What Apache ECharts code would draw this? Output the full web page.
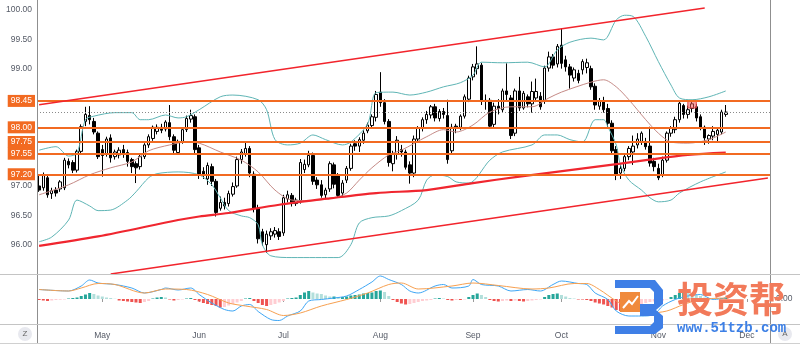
<!DOCTYPE html>
<html>
<head>
<meta charset="utf-8">
<script src="https://cdn.jsdelivr.net/npm/echarts@6/dist/echarts.min.js"></script>
<style>
  html, body { margin: 0; padding: 0; background: #ffffff; }
  #chart { width: 800px; height: 344px; }
</style>
</head>
<body>
<div id="chart"></div>
<script>
// ---- Calendar: one slot per weekday from 10 Apr 2019 (trailing slots are empty future space)
const FIRST_DAY = [2019, 3, 10];
const SLOT_COUNT = 174;
const dates = [];
(function () {
  const d = new Date(Date.UTC(FIRST_DAY[0], FIRST_DAY[1], FIRST_DAY[2]));
  while (dates.length < SLOT_COUNT) {
    const wd = d.getUTCDay();
    if (wd !== 0 && wd !== 6) dates.push(d.toISOString().slice(0, 10));
    d.setUTCDate(d.getUTCDate() + 1);
  }
})();
const monthNames = ['Jan','Feb','Mar','Apr','May','Jun','Jul','Aug','Sep','Oct','Nov','Dec'];

// ---- Daily bars: [open, close, low, high]
const ohlc = [
  [97.00,96.93,96.90,97.19],[96.97,97.19,96.92,97.23],[97.14,96.85,96.80,97.18],[96.87,96.92,96.78,96.97],
  [96.93,96.88,96.82,96.98],[96.95,97.07,96.90,97.10],[96.97,97.44,96.93,97.48],[97.42,97.36,97.30,97.47],
  [97.40,97.27,97.22,97.44],[97.27,97.59,97.23,97.62],[97.59,98.01,97.55,98.05],[98.10,98.22,98.02,98.35],
  [98.20,98.13,98.05,98.36],[98.10,97.92,97.88,98.16],[97.90,97.50,97.46,97.93],[97.62,97.52,97.16,97.70],
  [97.55,97.80,97.50,97.84],[97.82,97.48,97.40,97.88],[97.50,97.58,97.45,97.62],[97.53,97.61,97.47,97.66],
  [97.62,97.56,97.48,97.70],[97.57,97.42,97.33,97.62],[97.45,97.33,97.22,97.48],[97.38,97.31,97.05,97.42],
  [97.33,97.50,97.28,97.53],[97.50,97.70,97.46,97.73],[97.70,97.84,97.65,97.88],[97.81,98.00,97.77,98.03],
  [97.93,98.00,97.88,98.05],[98.00,97.95,97.90,98.06],[97.97,98.09,97.93,98.12],[98.08,97.84,97.78,98.38],
  [97.84,97.61,97.55,97.88],[97.57,97.76,97.53,97.79],[97.76,97.96,97.72,97.99],[97.96,98.15,97.92,98.20],
  [98.14,98.20,98.08,98.30],[98.18,97.62,97.55,98.22],[97.65,97.19,97.12,97.70],[97.25,97.19,97.12,97.32],
  [97.12,97.35,97.02,97.40],[97.33,97.08,97.00,97.38],[97.08,96.55,96.48,97.12],[96.62,96.72,96.58,96.82],
  [96.72,96.66,96.60,96.80],[96.70,96.87,96.65,96.92],[96.86,96.99,96.82,97.06],[97.00,97.45,96.97,97.50],
  [97.45,97.58,97.38,97.63],[97.55,97.64,97.50,97.76],[97.64,97.22,97.15,97.68],[97.20,96.62,96.55,97.25],
  [96.62,96.10,96.02,96.68],[96.22,96.05,95.98,96.27],[96.00,96.18,95.86,96.24],[96.15,96.22,96.08,96.28],
  [96.18,96.24,96.12,96.30],[96.22,96.14,96.08,96.28],[96.20,96.80,96.15,96.85],[96.78,96.85,96.72,96.92],
  [96.84,96.70,96.65,96.88],[96.70,96.76,96.66,96.80],[96.75,97.40,96.70,97.46],[97.28,97.37,97.22,97.45],
  [97.36,97.52,97.32,97.60],[97.52,97.08,97.02,97.57],[97.10,97.02,96.95,97.15],[97.02,96.84,96.80,97.10],
  [96.85,96.93,96.78,96.97],[96.95,97.38,96.90,97.42],[97.36,97.03,96.96,97.40],[97.19,96.84,96.80,97.22],
  [96.88,97.05,96.82,97.10],[97.10,97.30,97.05,97.34],[97.30,97.68,97.26,97.72],[97.72,97.68,97.60,97.78],
  [97.68,97.79,97.58,97.83],[97.78,97.90,97.72,97.95],[97.94,98.04,97.90,98.08],[98.03,98.18,97.98,98.22],
  [98.17,98.56,98.10,98.62],[98.60,98.42,98.35,98.94],[98.42,98.10,98.05,98.48],[98.10,97.40,97.33,98.14],
  [97.38,97.55,97.25,97.60],[97.55,97.78,97.45,97.85],[97.62,97.58,97.50,97.70],[97.58,97.32,97.28,97.62],
  [97.36,97.22,97.04,97.42],[97.22,97.80,97.15,97.86],[97.80,97.98,97.74,98.02],[97.98,98.13,97.93,98.17],
  [98.13,98.22,98.06,98.28],[98.21,98.35,98.15,98.38],[98.35,98.16,98.10,98.40],[98.15,98.27,98.10,98.31],
  [98.27,98.22,98.15,98.33],[98.20,97.45,97.38,98.47],[97.60,98.00,97.55,98.06],[98.02,97.98,97.90,98.06],
  [98.00,98.19,97.95,98.22],[98.19,98.52,98.15,98.56],[98.48,98.84,98.43,98.88],[98.86,99.03,98.80,99.08],
  [99.00,99.08,98.90,99.38],[99.06,98.44,98.38,99.10],[98.44,98.46,98.30,98.56],[98.46,98.02,97.98,98.50],
  [98.05,98.36,98.00,98.42],[98.36,98.32,98.22,98.48],[98.30,98.62,98.25,98.66],[98.62,98.56,98.45,99.09],
  [98.50,97.86,97.80,98.55],[97.90,98.62,97.85,98.66],[98.62,98.33,98.28,98.86],[98.33,98.58,98.30,98.62],
  [98.52,98.40,98.34,98.56],[98.40,98.61,98.25,98.78],[98.50,98.61,98.43,98.83],[98.53,98.35,98.30,98.60],
  [98.46,99.01,98.40,99.05],[99.01,99.20,98.95,99.29],[99.20,99.06,99.00,99.25],[99.08,99.38,99.02,99.42],
  [99.40,99.09,99.00,99.69],[99.15,99.03,98.95,99.22],[99.03,98.89,98.66,99.08],[98.84,98.98,98.78,99.02],
  [98.92,98.80,98.75,98.98],[98.98,99.12,98.90,99.16],[99.02,99.10,98.92,99.17],[99.00,98.69,98.64,99.05],
  [98.70,98.38,98.30,98.75],[98.36,98.44,98.30,98.50],[98.45,98.30,98.25,98.52],[98.32,98.07,98.00,98.40],
  [98.07,97.60,97.55,98.12],[97.62,97.18,97.10,97.68],[97.22,97.30,97.12,97.36],[97.30,97.50,97.25,97.53],
  [97.50,97.64,97.44,97.68],[97.58,97.68,97.36,97.86],[97.70,97.80,97.64,97.90],[97.76,97.90,97.70,97.93],
  [97.76,97.67,97.62,97.82],[97.68,97.39,97.33,98.01],[97.42,97.33,97.25,97.48],[97.30,97.14,97.10,97.38],
  [97.18,97.44,97.15,97.50],[97.44,97.90,97.40,97.93],[97.90,97.98,97.84,98.02],[97.96,98.13,97.90,98.18],
  [98.13,98.41,98.08,98.45],[98.37,98.22,98.15,98.40],[98.22,98.30,98.15,98.37],[98.32,98.40,98.25,98.45],
  [98.35,98.16,98.10,98.40],[98.18,98.00,97.95,98.22],[98.00,97.82,97.70,98.03],[97.80,97.86,97.72,97.88],
  [97.85,97.93,97.78,98.02],[97.88,97.95,97.75,98.00],[97.92,98.26,97.88,98.30],[98.22,98.26,98.18,98.38]
];

// ---- Indicator readings as [bar index, value]
const bbUpper = [[0,97.61],[4,97.67],[7,97.51],[9,97.56],[11,98.13],[13,98.19],[18,98.25],[22,98.25],[24,98.13],
  [26,98.13],[30,98.21],[33,98.16],[35,98.18],[38,98.30],[43,98.52],[46,98.55],[52,98.47],[54,98.30],[56,97.79],
  [59,97.70],[62,97.73],[65,97.87],[68,97.79],[72,97.70],[74,97.75],[78,98.06],[80,98.59],[84,98.60],[88,98.55],
  [92,98.60],[96,98.69],[100,98.76],[103,98.89],[105,99.11],[110,99.10],[116,99.11],[120,99.03],[123,99.32],
  [126,99.45],[131,99.52],[134,99.49],[137,99.83],[139,99.91],[141,99.89],[144,99.55],[147,99.12],[150,98.72],
  [152,98.50],[155,98.47],[159,98.52],[163,98.62]];
const bbLower = [[0,96.05],[3,96.13],[7,96.42],[9,96.76],[12,96.66],[14,96.58],[17,96.59],[21,96.76],[23,96.90],
  [26,97.14],[28,97.21],[33,97.24],[38,97.19],[41,97.02],[43,96.80],[45,96.58],[48,96.49],[50,96.46],[52,96.34],
  [53,96.00],[55,95.81],[60,95.78],[71,95.78],[74,96.00],[76,96.37],[79,96.46],[83,96.49],[86,96.58],[90,96.76],
  [92,97.10],[94,97.19],[97,97.16],[99,97.07],[102,97.05],[107,97.44],[110,97.58],[117,97.70],[120,97.87],
  [123,97.87],[126,97.79],[129,97.75],[132,98.13],[134,98.13],[135,98.01],[137,97.70],[138,97.36],[140,97.10],
  [143,96.93],[145,96.80],[147,96.73],[150,96.76],[152,96.88],[157,97.07],[163,97.24]];
const bbBasis = [[0,96.85],[7,97.02],[12,97.19],[17,97.31],[22,97.41],[26,97.60],[31,97.70],[35,97.75],[38,97.73],
  [43,97.58],[48,97.44],[52,97.24],[56,96.93],[60,96.76],[64,96.75],[70,96.80],[73,96.88],[76,97.10],[79,97.31],
  [83,97.53],[86,97.61],[92,97.84],[96,97.96],[99,97.92],[103,98.04],[107,98.26],[112,98.35],[117,98.35],
  [121,98.50],[124,98.60],[131,98.77],[134,98.81],[137,98.69],[140,98.47],[144,98.13],[147,97.90],[150,97.75],
  [154,97.73],[159,97.79],[163,97.92]];
const sma200 = [[0,95.98],[14,96.14],[33,96.42],[38,96.48],[45,96.54],[57,96.68],[69,96.79],[80,96.88],[92,96.93],
  [103,97.05],[114,97.16],[126,97.27],[138,97.38],[144,97.44],[154,97.53],[163,97.57]];

const macdLine = [[0,0.19],[7,0.16],[10,0.26],[12,0.38],[14,0.32],[18,0.29],[22,0.22],[25,0.12],[29,0.19],[30,0.22],
  [33,0.18],[36,0.22],[38,0.09],[41,-0.08],[44,-0.21],[46,-0.24],[48,-0.14],[50,-0.11],[52,-0.25],[55,-0.41],
  [57,-0.43],[59,-0.34],[62,-0.24],[64,-0.04],[67,-0.01],[70,0.02],[73,0.06],[76,0.19],[79,0.34],[81,0.46],
  [83,0.39],[86,0.29],[88,0.16],[90,0.12],[94,0.26],[96,0.29],[98,0.22],[102,0.26],[103,0.39],[105,0.29],
  [109,0.26],[112,0.16],[116,0.19],[119,0.16],[122,0.29],[124,0.36],[128,0.31],[130,0.29],[132,0.12],[135,-0.01],
  [137,-0.24],[140,-0.34],[143,-0.34],[146,-0.31],[148,-0.14],[151,-0.01],[154,0.06],[157,0.09],[160,-0.01],[163,0.02]];
const macdSignal = [[0,0.19],[7,0.16],[10,0.22],[14,0.31],[18,0.29],[25,0.12],[30,0.20],[35,0.19],[40,0.09],
  [45,-0.08],[49,-0.14],[54,-0.21],[58,-0.33],[62,-0.28],[67,-0.14],[73,-0.01],[78,0.12],[83,0.29],[86,0.32],
  [90,0.20],[98,0.26],[103,0.32],[109,0.27],[117,0.20],[121,0.22],[127,0.31],[130,0.31],[133,0.19],[137,-0.04],
  [141,-0.21],[145,-0.28],[149,-0.24],[153,-0.11],[157,-0.01],[163,0.02]];
const macdHist = [
  -0.02,-0.03,-0.04,-0.03,-0.02,-0.015,-0.01,0.01,0.02,0.03,0.06,0.09,0.12,0.10,0.07,0.05,0.03,0.02,0.005,-0.03,
  -0.04,-0.05,-0.06,-0.07,-0.08,-0.06,-0.04,0.01,0.03,0.04,0.03,-0.01,-0.03,-0.02,-0.01,0.01,0.02,-0.02,-0.05,-0.08,
  -0.10,-0.12,-0.14,-0.17,-0.16,-0.13,-0.10,-0.07,-0.04,0.01,0.02,-0.04,-0.08,-0.12,-0.14,-0.12,-0.10,-0.07,-0.04,0.01,
  0.02,0.03,0.08,0.13,0.16,0.13,0.11,0.10,0.07,0.05,0.05,0.04,0.04,0.05,0.07,0.08,0.09,0.11,0.12,0.13,
  0.16,0.17,0.14,0.06,-0.02,-0.06,-0.09,-0.11,-0.10,-0.08,-0.06,-0.04,-0.03,-0.02,0.01,0.02,0.01,-0.02,-0.03,-0.02,
  -0.02,-0.01,0.04,0.08,0.11,0.08,0.04,-0.02,-0.04,-0.05,-0.04,-0.03,-0.04,-0.03,-0.04,-0.05,-0.04,-0.03,-0.02,-0.01,
  0.04,0.08,0.10,0.11,0.08,0.05,0.02,0.01,-0.01,-0.01,-0.02,-0.04,-0.07,-0.09,-0.11,-0.14,-0.17,-0.22,-0.24,-0.23,
  -0.20,-0.17,-0.14,-0.11,-0.08,-0.06,-0.05,-0.05,-0.03,-0.01,0.04,0.08,0.12,0.13,0.12,0.11,0.09,0.06,0.03,0.02,
  0.01,0.01,0.02,0.03
];

// ---- Drawings
const levels = [98.45, 98.00, 97.75, 97.55, 97.20];
const channelUpper = [[0, 98.385], [158, 100.033]];
const channelLower = [[17, 95.50], [173, 97.136]];
const highlightBox = [[154, 98.44], [156, 98.33]];

// ---- Styling
const ORANGE = '#f26a21';
const TEAL = '#5fb5b5';
const AXIS_TEXT = '#555a66';
const FONT = 'Liberation Sans';

const at = arr => arr.map(([i, v]) => [dates[i], v]);
const lastClose = ohlc[ohlc.length - 1][1];
const monthStart = new Set();
dates.forEach((d, i) => { if (i > 0 && d.slice(5, 7) !== dates[i - 1].slice(5, 7)) monthStart.add(i); });

const histColors = macdHist.map((v, i) => {
  const prev = i > 0 ? macdHist[i - 1] : v;
  if (v >= 0) return v >= prev ? '#26a69a' : '#b2dfdb';
  return v <= prev ? '#ef5350' : '#ffcdd2';
});

// price-scale labels that sit under a level tag are left out
const priceLabel = v => {
  if (Math.abs(v * 2 - Math.round(v * 2)) > 1e-6) return '';
  if (levels.some(l => Math.abs(l - v) < 0.09)) return '';
  return v.toFixed(2);
};

const trendStyle = { lineStyle: { color: '#f2242c', width: 1.5, type: 'solid' }, label: { show: false } };

const chart = echarts.init(document.getElementById('chart'), null, { renderer: 'canvas' });

chart.setOption({
  animation: false,
  backgroundColor: '#ffffff',
  textStyle: { fontFamily: FONT },
  grid: [
    { left: 37, right: 30, top: 0, height: 274 },
    { left: 37, right: 30, top: 274, height: 50 }
  ],
  xAxis: [
    { type: 'category', gridIndex: 0, data: dates, boundaryGap: true,
      axisLine: { show: false }, axisTick: { show: false }, axisLabel: { show: false }, splitLine: { show: false } },
    { type: 'category', gridIndex: 1, data: dates, boundaryGap: true,
      axisLine: { show: false },
      axisTick: { show: true, length: 3, alignWithLabel: true, interval: i => monthStart.has(i), lineStyle: { color: '#9a9a9a' } },
      axisLabel: { show: true, interval: i => monthStart.has(i), margin: 7, fontSize: 8.5, color: AXIS_TEXT,
        formatter: v => monthNames[parseInt(v.slice(5, 7), 10) - 1] },
      splitLine: { show: false } }
  ],
  yAxis: [
    { type: 'value', gridIndex: 0, min: 95.5, max: 100.17, interval: 0.5, position: 'left',
      axisLine: { show: false }, axisTick: { show: false }, splitLine: { show: false },
      axisLabel: { margin: 5, fontSize: 8.5, color: AXIS_TEXT, showMinLabel: false, formatter: priceLabel } },
    { type: 'value', gridIndex: 1, min: -0.5, max: 0.5, interval: 0.5, position: 'right',
      axisLine: { show: false }, axisTick: { show: false }, splitLine: { show: false },
      axisLabel: { margin: 6, fontSize: 8.5, color: AXIS_TEXT, formatter: v => (v === 0 ? '0.00' : '') } }
  ],
  series: [
    {
      name: 'Price', type: 'candlestick', xAxisIndex: 0, yAxisIndex: 0, data: ohlc, barWidth: 3, z: 2,
      itemStyle: { color: '#ffffff', color0: '#000000', borderColor: '#000000', borderColor0: '#000000', borderWidth: 1 },
      markLine: {
        silent: true, symbol: ['none', 'none'], animation: false,
        data: [
          ...levels.map(v => ({
            yAxis: v,
            lineStyle: { color: ORANGE, width: 2, type: 'solid' },
            label: { show: true, position: 'start', distance: 2, formatter: () => v.toFixed(2),
              color: '#ffffff', backgroundColor: ORANGE, padding: [2, 3, 1, 3], fontSize: 8.5, fontFamily: FONT }
          })),
          { yAxis: lastClose, lineStyle: { color: '#8a8a8a', width: 1, type: [1, 2] }, label: { show: false } },
          [ Object.assign({ coord: [dates[channelUpper[0][0]], channelUpper[0][1]] }, trendStyle),
            { coord: [dates[channelUpper[1][0]], channelUpper[1][1]] } ],
          [ Object.assign({ coord: [dates[channelLower[0][0]], channelLower[0][1]] }, trendStyle),
            { coord: [dates[channelLower[1][0]], channelLower[1][1]] } ]
        ]
      },
      markArea: {
        silent: true, z: 4,
        label: { show: false },
        itemStyle: { color: 'rgba(240, 90, 90, 0.55)', borderColor: '#e0474c', borderWidth: 1 },
        data: [[ { coord: [dates[highlightBox[0][0]], highlightBox[0][1]] }, { coord: [dates[highlightBox[1][0]], highlightBox[1][1]] } ]]
      }
    },
    { name: 'BB Upper', type: 'line', xAxisIndex: 0, yAxisIndex: 0, data: at(bbUpper), symbol: 'none', smooth: 0.3,
      lineStyle: { color: TEAL, width: 1 }, z: 3 },
    { name: 'BB Lower', type: 'line', xAxisIndex: 0, yAxisIndex: 0, data: at(bbLower), symbol: 'none', smooth: 0.3,
      lineStyle: { color: TEAL, width: 1 }, z: 3 },
    { name: 'BB Basis', type: 'line', xAxisIndex: 0, yAxisIndex: 0, data: at(bbBasis), symbol: 'none', smooth: 0.3,
      lineStyle: { color: '#c58a86', width: 1 }, z: 3 },
    { name: 'SMA 200', type: 'line', xAxisIndex: 0, yAxisIndex: 0, data: at(sma200), symbol: 'none', smooth: 0.3,
      lineStyle: { color: '#f0262f', width: 2.2 }, z: 3 },
    { name: 'Histogram', type: 'bar', xAxisIndex: 1, yAxisIndex: 1, barWidth: 3,
      data: macdHist.map((v, i) => ({ value: v, itemStyle: { color: histColors[i] } })) },
    { name: 'MACD', type: 'line', xAxisIndex: 1, yAxisIndex: 1, data: at(macdLine), symbol: 'none', smooth: 0.3,
      lineStyle: { color: '#3ea6f5', width: 1 }, z: 3 },
    { name: 'Signal', type: 'line', xAxisIndex: 1, yAxisIndex: 1, data: at(macdSignal), symbol: 'none', smooth: 0.3,
      lineStyle: { color: '#f7a050', width: 1 }, z: 3 }
  ],
  graphic: [
    // panel frame
    { type: 'line', shape: { x1: 37.5, y1: 0, x2: 37.5, y2: 344 }, style: { stroke: '#8f8f8f', lineWidth: 1 }, z: 10 },
    { type: 'line', shape: { x1: 770.5, y1: 0, x2: 770.5, y2: 344 }, style: { stroke: '#8f8f8f', lineWidth: 1 }, z: 10 },
    { type: 'line', shape: { x1: 0, y1: 274.5, x2: 800, y2: 274.5 }, style: { stroke: '#c4c4c4', lineWidth: 1 }, z: 10 },
    { type: 'line', shape: { x1: 0, y1: 324.5, x2: 800, y2: 324.5 }, style: { stroke: '#c4c4c4', lineWidth: 1 }, z: 10 },
    { type: 'line', shape: { x1: 0, y1: 343.5, x2: 800, y2: 343.5 }, style: { stroke: '#d0d0d0', lineWidth: 1 }, z: 10 },
    // scale buttons
    { type: 'circle', shape: { cx: 25, cy: 334, r: 7 }, style: { fill: '#e8e9ef' }, z: 10 },
    { type: 'text', x: 25, y: 334, style: { text: 'Z', fill: '#666', font: '8px ' + FONT, textAlign: 'center', textVerticalAlign: 'middle' }, z: 11 },
    { type: 'circle', shape: { cx: 785, cy: 334, r: 7 }, style: { fill: '#e8e9ef' }, z: 10 },
    { type: 'text', x: 785, y: 334, style: { text: 'A', fill: '#666', font: '8px ' + FONT, textAlign: 'center', textVerticalAlign: 'middle' }, z: 11 },
    // site mark
    { type: 'group', z: 20, children: [
      { type: 'polygon', shape: { points: [[615,280],[655,280],[663,290],[663,304],[656,310],[663,316],[663,328],[655,334],[615,334],[615,326],[650,326],[654,322],[654,316],[640,316],[640,304],[654,304],[654,292],[650,288],[615,288]] },
        style: { fill: '#3f7fe6' }, z: 20 },
      { type: 'rect', shape: { x: 620, y: 292, width: 20, height: 20 }, style: { fill: '#f08a3c' }, z: 21 },
      { type: 'polyline', shape: { points: [[623,308],[629,301],[632,304],[638,296]] }, style: { stroke: '#ffffff', lineWidth: 2, fill: null }, z: 22 },
      { type: 'text', x: 677, y: 281, style: { text: '投资帮', fill: '#f27a5a', font: 'bold 36px "Noto Sans CJK SC"' }, z: 21 },
      { type: 'text', x: 677, y: 321, style: { text: 'www.51tzb.com', fill: '#3d80e6', font: 'bold 14px "Liberation Mono"' }, z: 21 }
    ] }
  ]
});
</script>
</body>
</html>
